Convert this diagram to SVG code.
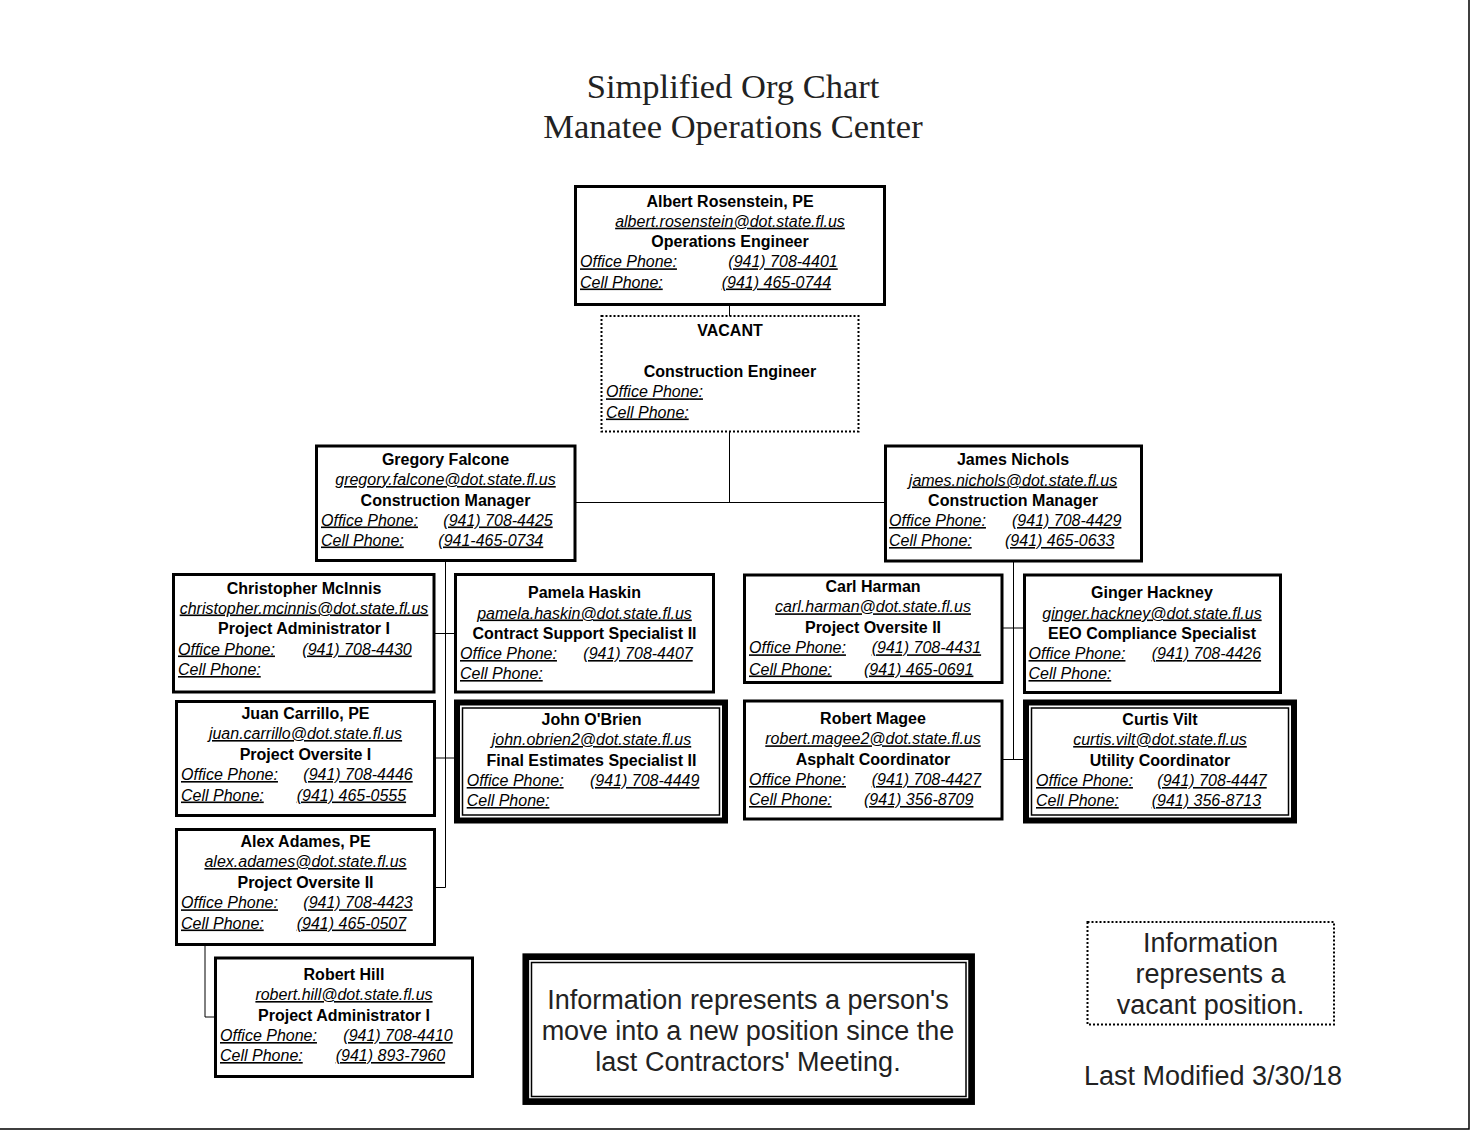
<svg xmlns="http://www.w3.org/2000/svg" width="1470" height="1130" viewBox="0 0 1470 1130">
<style>
text { font-family: "Liberation Sans", Arial, sans-serif; font-size: 16px; fill: #000; }
.t { font-family: "Liberation Serif", "Times New Roman", serif; font-size: 34.5px; text-anchor: middle; fill: #222; }
.b { font-weight: bold; text-anchor: middle; }
.e { font-style: italic; text-anchor: middle; text-decoration: underline; }
.l { font-style: italic; text-decoration: underline; }
.g { font-size: 27px; text-anchor: middle; fill: #222; }
.box { fill: #fff; stroke: #000; stroke-width: 3; }
.dot { fill: #fff; stroke: #000; stroke-width: 2; stroke-dasharray: 2 2; }
.thick { fill: #fff; stroke: #000; stroke-width: 6; }
.thin { fill: none; stroke: #000; stroke-width: 1.5; }
.conn { fill: none; stroke: #000; stroke-width: 1; }
</style>
<rect x="0" y="0" width="1470" height="1130" fill="#fff"/>
<path d="M1469 0 V1129 H0" fill="none" stroke="#000" stroke-width="1.5"/>
<g id="title">
<text class="t" x="733" y="98">Simplified Org Chart</text>
<text class="t" x="733" y="138">Manatee Operations Center</text>
</g>
<g id="connectors">
<path class="conn" d="M729.5 305 V316"/>
<path class="conn" d="M729.5 431.5 V502.5 M575 502.5 H885"/>
<path class="conn" d="M445.5 561 V887.5 M434.5 633.5 H455 M434.5 758 H455 M434.5 887.5 H445.5"/>
<path class="conn" d="M205 944.5 V1017 H215"/>
<path class="conn" d="M1013.5 562 V759.5 M1003 628 H1023 M1003 759.5 H1023"/>
</g>
<g id="albert">
<rect class="box" x="575.5" y="186.5" width="309" height="118"/>
<text class="b" x="730" y="206.5">Albert Rosenstein, PE</text>
<text class="e" x="730" y="226.7">albert.rosenstein@dot.state.fl.us</text>
<text class="b" x="730" y="247">Operations Engineer</text>
<text class="l" x="580" y="267.3">Office Phone:</text><text class="l" x="728.3" y="267.3">(941) 708-4401</text>
<text class="l" x="580" y="287.5">Cell Phone:</text><text class="l" x="721.7" y="287.5">(941) 465-0744</text>
</g>
<g id="vacant">
<rect class="dot" x="601.5" y="316" width="257" height="115.5"/>
<text class="b" x="730" y="336">VACANT</text>
<text class="b" x="730" y="377">Construction Engineer</text>
<text class="l" x="606" y="397.3">Office Phone:</text>
<text class="l" x="606" y="417.5">Cell Phone:</text>
</g>
<g id="falcone">
<rect class="box" x="316.5" y="446" width="258.5" height="114.5"/>
<text class="b" x="445.5" y="465">Gregory Falcone</text>
<text class="e" x="445.5" y="485">gregory.falcone@dot.state.fl.us</text>
<text class="b" x="445.5" y="505.5">Construction Manager</text>
<text class="l" x="321" y="525.5">Office Phone:</text><text class="l" x="443.3" y="525.5">(941) 708-4425</text>
<text class="l" x="321" y="545.5">Cell Phone:</text><text class="l" x="438.3" y="545.5">(941-465-0734</text>
</g>
<g id="nichols">
<rect class="box" x="885.5" y="446" width="256" height="115"/>
<text class="b" x="1013" y="465">James Nichols</text>
<text class="e" x="1013" y="485.5">james.nichols@dot.state.fl.us</text>
<text class="b" x="1013" y="506">Construction Manager</text>
<text class="l" x="889" y="526">Office Phone:</text><text class="l" x="1012" y="526">(941) 708-4429</text>
<text class="l" x="889" y="546">Cell Phone:</text><text class="l" x="1005" y="546">(941) 465-0633</text>
</g>
<g id="mcinnis">
<rect class="box" x="173.5" y="574.5" width="260.5" height="117.5"/>
<text class="b" x="304" y="593.5">Christopher McInnis</text>
<text class="e" x="304" y="613.5">christopher.mcinnis@dot.state.fl.us</text>
<text class="b" x="304" y="634">Project Administrator I</text>
<text class="l" x="178" y="654.5">Office Phone:</text><text class="l" x="302.3" y="654.5">(941) 708-4430</text>
<text class="l" x="178" y="675">Cell Phone:</text>
</g>
<g id="carrillo">
<rect class="box" x="176.5" y="701.5" width="258" height="114"/>
<text class="b" x="305.5" y="719">Juan Carrillo, PE</text>
<text class="e" x="305.5" y="739">juan.carrillo@dot.state.fl.us</text>
<text class="b" x="305.5" y="760">Project Oversite I</text>
<text class="l" x="181" y="780">Office Phone:</text><text class="l" x="303.3" y="780">(941) 708-4446</text>
<text class="l" x="181" y="800.5">Cell Phone:</text><text class="l" x="296.7" y="800.5">(941) 465-0555</text>
</g>
<g id="adames">
<rect class="box" x="176.5" y="829.5" width="258" height="115"/>
<text class="b" x="305.5" y="847">Alex Adames, PE</text>
<text class="e" x="305.5" y="867">alex.adames@dot.state.fl.us</text>
<text class="b" x="305.5" y="888">Project Oversite II</text>
<text class="l" x="181" y="908.3">Office Phone:</text><text class="l" x="303.3" y="908.3">(941) 708-4423</text>
<text class="l" x="181" y="928.5">Cell Phone:</text><text class="l" x="296.7" y="928.5">(941) 465-0507</text>
</g>
<g id="hill">
<rect class="box" x="215.5" y="958" width="257" height="118.5"/>
<text class="b" x="344" y="980">Robert Hill</text>
<text class="e" x="344" y="1000">robert.hill@dot.state.fl.us</text>
<text class="b" x="344" y="1020.5">Project Administrator I</text>
<text class="l" x="220" y="1041">Office Phone:</text><text class="l" x="343.3" y="1041">(941) 708-4410</text>
<text class="l" x="220" y="1061">Cell Phone:</text><text class="l" x="335.7" y="1061">(941) 893-7960</text>
</g>
<g id="haskin">
<rect class="box" x="455.5" y="574.5" width="258" height="117.5"/>
<text class="b" x="584.5" y="598">Pamela Haskin</text>
<text class="e" x="584.5" y="618.5">pamela.haskin@dot.state.fl.us</text>
<text class="b" x="584.5" y="638.5">Contract Support Specialist II</text>
<text class="l" x="460" y="659">Office Phone:</text><text class="l" x="583.3" y="659">(941) 708-4407</text>
<text class="l" x="460" y="679">Cell Phone:</text>
</g>
<g id="obrien">
<rect class="thick" x="457" y="702.5" width="268" height="118"/>
<rect class="thin" x="462.5" y="708" width="257" height="107"/>
<text class="b" x="591.5" y="725">John O'Brien</text>
<text class="e" x="591.5" y="745">john.obrien2@dot.state.fl.us</text>
<text class="b" x="591.5" y="765.5">Final Estimates Specialist II</text>
<text class="l" x="466.7" y="786">Office Phone:</text><text class="l" x="590" y="786">(941) 708-4449</text>
<text class="l" x="466.7" y="806">Cell Phone:</text>
</g>
<g id="harman">
<rect class="box" x="744.5" y="575" width="257.5" height="107.5"/>
<text class="b" x="873" y="592.3">Carl Harman</text>
<text class="e" x="873" y="612.3">carl.harman@dot.state.fl.us</text>
<text class="b" x="873" y="633">Project Oversite II</text>
<text class="l" x="749" y="653.3">Office Phone:</text><text class="l" x="871.7" y="653.3">(941) 708-4431</text>
<text class="l" x="749" y="674.5">Cell Phone:</text><text class="l" x="864" y="674.5">(941) 465-0691</text>
</g>
<g id="magee">
<rect class="box" x="744.5" y="701" width="257.5" height="118"/>
<text class="b" x="873" y="723.5">Robert Magee</text>
<text class="e" x="873" y="744.3">robert.magee2@dot.state.fl.us</text>
<text class="b" x="873" y="764.5">Asphalt Coordinator</text>
<text class="l" x="749" y="785">Office Phone:</text><text class="l" x="871.7" y="785">(941) 708-4427</text>
<text class="l" x="749" y="805">Cell Phone:</text><text class="l" x="864" y="805">(941) 356-8709</text>
</g>
<g id="hackney">
<rect class="box" x="1024.5" y="575" width="256" height="117.5"/>
<text class="b" x="1152" y="598">Ginger Hackney</text>
<text class="e" x="1152" y="618.5">ginger.hackney@dot.state.fl.us</text>
<text class="b" x="1152" y="638.5">EEO Compliance Specialist</text>
<text class="l" x="1028.5" y="659">Office Phone:</text><text class="l" x="1151.7" y="659">(941) 708-4426</text>
<text class="l" x="1028.5" y="679">Cell Phone:</text>
</g>
<g id="vilt">
<rect class="thick" x="1026" y="702.5" width="268" height="118"/>
<rect class="thin" x="1031.5" y="708" width="257" height="107"/>
<text class="b" x="1160" y="725">Curtis Vilt</text>
<text class="e" x="1160" y="745">curtis.vilt@dot.state.fl.us</text>
<text class="b" x="1160" y="765.5">Utility Coordinator</text>
<text class="l" x="1036" y="786">Office Phone:</text><text class="l" x="1157.3" y="786">(941) 708-4447</text>
<text class="l" x="1036" y="806">Cell Phone:</text><text class="l" x="1151.7" y="806">(941) 356-8713</text>
</g>
<g id="legend-moved">
<rect x="525.8" y="956.7" width="445.8" height="144.9" fill="#fff" stroke="#000" stroke-width="6.7"/>
<rect class="thin" x="531.5" y="962.5" width="434.5" height="134"/>
<text class="g" x="748" y="1009">Information represents a person's</text>
<text class="g" x="748" y="1040">move into a new position since the</text>
<text class="g" x="748" y="1071">last Contractors' Meeting.</text>
</g>
<g id="legend-vacant">
<rect class="dot" x="1087.5" y="922" width="246.5" height="102.5"/>
<text class="g" x="1210.5" y="952">Information</text>
<text class="g" x="1210.5" y="982.5">represents a</text>
<text class="g" x="1210.5" y="1013.5">vacant position.</text>
</g>
<text class="g" x="1213" y="1085">Last Modified 3/30/18</text>
</svg>
